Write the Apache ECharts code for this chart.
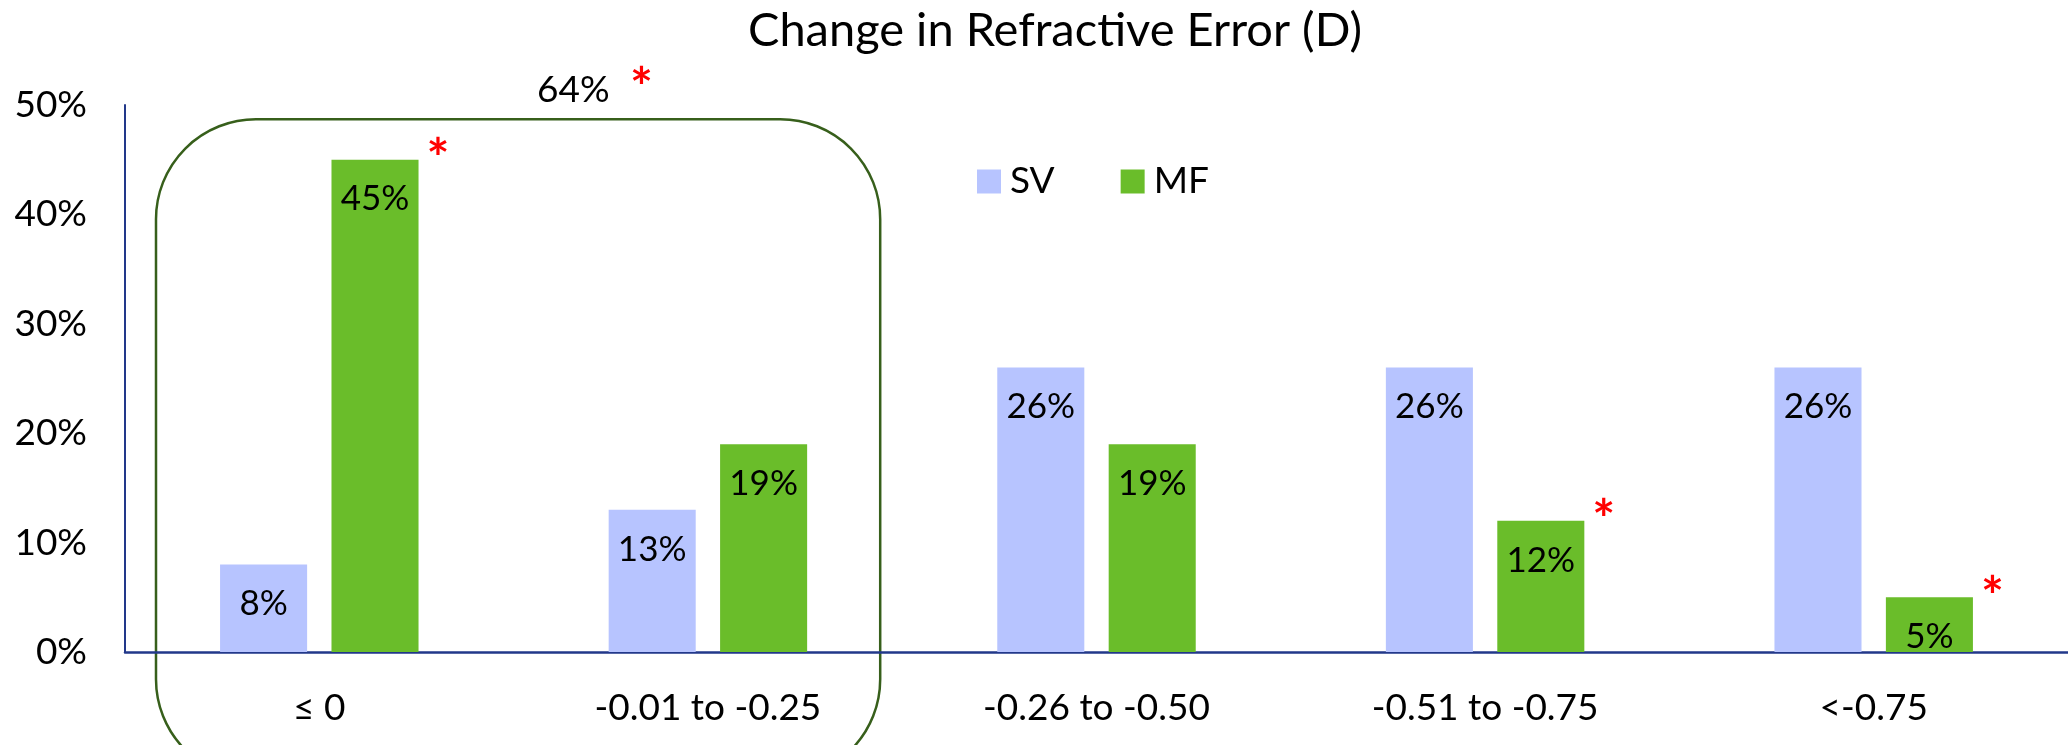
<!DOCTYPE html>
<html>
<head>
<meta charset="utf-8">
<script src="https://cdn.jsdelivr.net/npm/echarts@6/dist/echarts.min.js"></script>
<style>
  html, body { margin: 0; padding: 0; background: #fff; }
  #chart { width: 2068px; height: 745px; }
</style>
</head>
<body>
<div id="chart"></div>
<script>
var categories = ['\u2264 0', '-0.01 to -0.25', '-0.26 to -0.50', '-0.51 to -0.75', '<-0.75'];
var svValues = [8, 13, 26, 26, 26];
var mfValues = [45, 19, 19, 12, 5];
var mfStar = [true, false, false, true, true];
var yTicks = [0, 10, 20, 30, 40, 50];

var font = 'Lato, "Open Sans", sans-serif';
var svColor = '#B7C4FF';
var mfColor = '#6ABD2A';
var axisColor = '#22388A';
var star = '#FF0000';

var chart = echarts.init(document.getElementById('chart'), null, { renderer: 'canvas' });

var starPoints = [];
mfValues.forEach(function(v, i) {
  if (mfStar[i]) starPoints.push({ coord: [i, v], value: '*' });
});

chart.setOption({
  animation: false,
  textStyle: { fontFamily: font },
  title: {
    text: 'Change in Refractive Error (D)',
    left: 743, top: 2,
    textStyle: { fontFamily: font, fontSize: 47, fontWeight: 'normal', color: '#000' }
  },
  legend: {
    data: ['SV', 'MF'],
    left: 972, top: 158,
    icon: 'rect', itemWidth: 24, itemHeight: 24, itemGap: 66,
    textStyle: { fontFamily: font, fontSize: 37, color: '#000', padding: [0, 0, 0, 4] }
  },
  grid: { left: 125, right: 0, top: 105, bottom: 93 },
  xAxis: {
    type: 'category',
    data: categories,
    axisLine: { lineStyle: { color: axisColor, width: 2.5 } },
    axisTick: { show: false },
    axisLabel: { fontFamily: font, fontSize: 37, color: '#000', margin: 38 }
  },
  yAxis: {
    type: 'value',
    min: yTicks[0], max: yTicks[yTicks.length - 1], interval: 10,
    axisLine: { show: true, lineStyle: { color: axisColor, width: 2 } },
    axisTick: { show: false },
    splitLine: { show: false },
    axisLabel: { fontFamily: font, fontSize: 37, color: '#000', margin: 38,
      formatter: function(v) { return v + '%'; } }
  },
  series: [
    {
      name: 'SV', type: 'bar', data: svValues,
      barWidth: '22.4%', barGap: '28%',
      itemStyle: { color: svColor },
      label: { show: true, position: 'insideTop', distance: 22, fontFamily: font, fontSize: 35, color: '#000',
        formatter: function(p) { return p.value + '%'; } }
    },
    {
      name: 'MF', type: 'bar', data: mfValues,
      barWidth: '22.4%', barGap: '28%',
      itemStyle: { color: mfColor },
      label: { show: true, position: 'insideTop', distance: 22, fontFamily: font, fontSize: 35, color: '#000',
        formatter: function(p) { return p.value + '%'; } },
      markPoint: {
        symbol: 'circle', symbolSize: 0,
        label: { show: true, formatter: '*', color: star, fontFamily: font, fontSize: 54, fontWeight: 'bold', offset: [63, 0] },
        data: starPoints
      }
    }
  ]
});

// rounded box around the first two groups, with the combined MF share above it
var p0 = chart.convertToPixel({ xAxisIndex: 0, yAxisIndex: 0 }, [0, 0]);
var p1 = chart.convertToPixel({ xAxisIndex: 0, yAxisIndex: 0 }, [1, 0]);
var step = p1[0] - p0[0];
var boxLeft = p0[0] - step / 2 + 31;
var boxRight = p1[0] + step / 2 - 22;
var boxTop = chart.convertToPixel({ yAxisIndex: 0 }, 48.7);
var combined = mfValues[0] + mfValues[1];

chart.setOption({
  graphic: [
    {
      type: 'rect', silent: true,
      shape: { x: boxLeft, y: boxTop, width: boxRight - boxLeft, height: 660, r: 100 },
      style: { fill: 'none', stroke: '#375F1B', lineWidth: 2.5 }
    },
    {
      type: 'text', silent: true,
      x: 537, y: 72,
      style: { text: combined + '%', fontFamily: font, fontSize: 37, fill: '#000' }
    },
    {
      type: 'text', silent: true,
      x: 630, y: 62,
      style: { text: '*', fontFamily: font, fontSize: 54, fontWeight: 'bold', fill: star }
    }
  ]
});
</script>
</body>
</html>
